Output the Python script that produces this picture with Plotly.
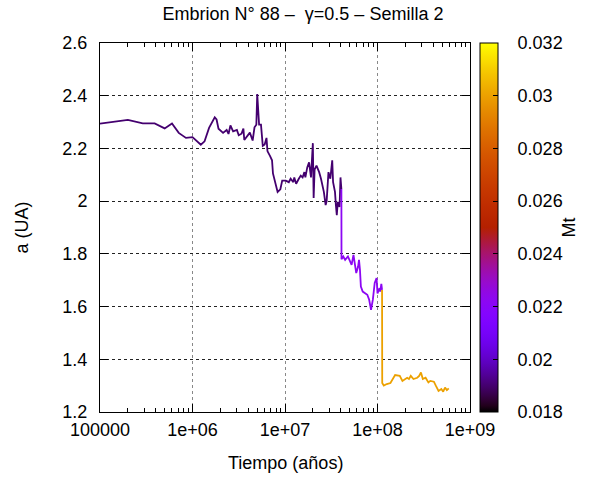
import math
import plotly.graph_objects as go

# ---- data ----
t_seg1 = [1.0e5, 2.0e5, 2.9e5, 3.9e5, 5.0e5, 6.0e5, 7.1e5, 8.5e5, 1.0e6, 1.23e6,
          1.35e6, 1.51e6, 1.74e6, 1.82e6, 1.91e6, 2.14e6, 2.34e6, 2.45e6, 2.57e6, 2.75e6,
          3.02e6, 3.16e6, 3.39e6, 3.55e6, 3.63e6, 3.98e6, 4.17e6, 4.47e6, 4.68e6, 4.90e6,
          5.01e6, 5.25e6, 5.50e6, 5.75e6, 6.03e6, 6.31e6, 6.46e6, 6.92e6, 7.24e6, 7.41e6,
          7.94e6, 8.32e6, 8.91e6, 9.33e6, 1.02e7, 1.10e7, 1.15e7, 1.23e7, 1.26e7, 1.32e7,
          1.41e7, 1.48e7, 1.55e7, 1.62e7, 1.66e7, 1.74e7, 1.82e7, 1.91e7, 2.00e7, 2.04e7,
          2.09e7, 2.19e7, 2.34e7, 2.45e7, 2.63e7, 2.75e7, 2.82e7, 2.88e7, 2.95e7, 3.09e7,
          3.24e7, 3.31e7, 3.47e7, 3.55e7, 3.63e7, 3.72e7, 3.89e7, 3.98e7, 4.07e7]
a_seg1 = [2.294, 2.308, 2.295, 2.295, 2.276, 2.295, 2.259, 2.240, 2.243, 2.214,
          2.227, 2.278, 2.318, 2.310, 2.275, 2.259, 2.270, 2.255, 2.287, 2.265,
          2.270, 2.250, 2.256, 2.275, 2.232, 2.250, 2.260, 2.230, 2.280, 2.290,
          2.406, 2.290, 2.290, 2.210, 2.215, 2.240, 2.190, 2.170, 2.155, 2.105,
          2.060, 2.035, 2.045, 2.078, 2.078, 2.072, 2.085, 2.072, 2.090, 2.066,
          2.085, 2.097, 2.090, 2.110, 2.090, 2.128, 2.147, 2.090, 2.220, 2.012,
          2.120, 2.135, 2.110, 2.085, 2.035, 1.985, 2.000, 2.060, 2.110, 2.085,
          2.155, 2.072, 2.035, 1.985, 1.947, 1.997, 1.978, 2.090, 2.046]

t_seg2 = [4.07e7, 4.08e7, 4.27e7, 4.47e7, 4.79e7, 5.01e7, 5.25e7, 5.50e7, 5.75e7, 5.89e7,
          6.17e7, 6.31e7, 6.46e7, 6.61e7, 6.92e7, 7.41e7, 7.76e7, 8.13e7, 8.51e7, 8.91e7,
          9.12e7, 9.33e7, 9.77e7, 1.00e8, 1.05e8, 1.07e8, 1.10e8, 1.12e8]
a_seg2 = [2.046, 1.780, 1.790, 1.777, 1.790, 1.777, 1.758, 1.796, 1.758, 1.727,
          1.752, 1.777, 1.740, 1.676, 1.657, 1.650, 1.645, 1.626, 1.588, 1.626,
          1.650, 1.690, 1.708, 1.650, 1.670, 1.657, 1.686, 1.663]

t_seg3 = [1.12e8, 1.125e8, 1.17e8, 1.26e8, 1.38e8, 1.45e8, 1.55e8, 1.74e8, 1.86e8, 2.09e8,
          2.19e8, 2.29e8, 2.45e8, 2.69e8, 2.82e8, 2.95e8, 3.09e8, 3.31e8, 3.55e8, 3.72e8,
          4.07e8, 4.27e8, 4.57e8, 4.90e8, 5.13e8, 5.37e8, 5.62e8, 5.89e8]
a_seg3 = [1.663, 1.310, 1.300, 1.306, 1.310, 1.325, 1.340, 1.337, 1.318, 1.330,
          1.325, 1.337, 1.325, 1.330, 1.337, 1.350, 1.325, 1.330, 1.312, 1.318,
          1.315, 1.300, 1.280, 1.287, 1.277, 1.293, 1.283, 1.290]

mt_segments = [0.0190, 0.0222, 0.0300]

x_tickvals = [1e5, 1e6, 1e7, 1e8, 1e9]
x_ticktext = ["100000", "1e+06", "1e+07", "1e+08", "1e+09"]
x_minor_vals = [m * 10 ** d for d in range(5, 9) for m in range(2, 10)]
y_tickvals = [1.2, 1.4, 1.6, 1.8, 2.0, 2.2, 2.4, 2.6]
y_ticktext = ["1.2", "1.4", "1.6", "1.8", "2", "2.2", "2.4", "2.6"]
cb_tickvals = [0.018, 0.020, 0.022, 0.024, 0.026, 0.028, 0.030, 0.032]
cb_ticktext = ["0.018", "0.02", "0.022", "0.024", "0.026", "0.028", "0.03", "0.032"]
cmin, cmax = 0.018, 0.032

title_text = "Embrion N° 88 –  γ=0.5 – Semilla 2"
xlabel = "Tiempo (años)"
ylabel = "a (UA)"
cblabel = "Mt"

# ---- gnuplot-like palette (rgbformulae 7,5,15) ----
def pal(f):
    f = min(max(f, 0.0), 1.0)
    r = math.sqrt(f)
    g = f ** 3
    b = math.sin(2 * math.pi * f)
    r, g, b = [min(max(v, 0.0), 1.0) for v in (r, g, b)]
    return "rgb(%d,%d,%d)" % (round(r * 255), round(g * 255), round(b * 255))

colorscale = [[i / 60, pal(i / 60)] for i in range(61)]

FONT = "Liberation Sans, Arial, sans-serif"
FS = 18
fig = go.Figure()

for ts, as_, mt in zip([t_seg1, t_seg2, t_seg3], [a_seg1, a_seg2, a_seg3], mt_segments):
    fig.add_trace(go.Scatter(x=ts, y=as_, mode="lines",
                             line=dict(color=pal((mt - cmin) / (cmax - cmin)), width=1.8),
                             showlegend=False, hoverinfo="skip"))

# colorbar carrier
NB = "\u00a0"
fig.add_trace(go.Scatter(
    x=[1e5, 1e5], y=[1.2, 1.2], mode="markers", showlegend=False, hoverinfo="skip",
    marker=dict(size=1, opacity=0, color=[cmin, cmax], cmin=cmin, cmax=cmax,
                colorscale=colorscale, showscale=True,
                colorbar=dict(x=(480 - 100) / 370, xanchor="left", xref="paper",
                              y=0.5, yanchor="middle", len=1.0, lenmode="fraction",
                              thickness=18, thicknessmode="pixels", xpad=0, ypad=0,
                              outlinecolor="black", outlinewidth=1,
                              tickvals=cb_tickvals, ticktext=[NB * 3 + s for s in cb_ticktext],
                              ticks="inside", ticklen=5, tickcolor="black",
                              tickfont=dict(family=FONT, size=FS, color="black")))))

fig.update_xaxes(type="log", range=[5, 9], tickvals=x_tickvals, ticktext=x_ticktext,
                 ticks="inside", ticklen=8, tickcolor="black", mirror="allticks",
                 showline=True, linecolor="black", linewidth=1,
                 showgrid=True, gridcolor="#888888", griddash="dot", gridwidth=1,
                 minor=dict(tickvals=x_minor_vals, ticks="inside", ticklen=4,
                            tickcolor="black", showgrid=False),
                 ticklabelstandoff=1,
                 tickfont=dict(family=FONT, size=FS, color="black"), zeroline=False)
fig.update_yaxes(range=[1.2, 2.6], tickvals=y_tickvals, ticktext=y_ticktext,
                 ticks="inside", ticklen=8, tickcolor="black", mirror="allticks",
                 showline=True, linecolor="black", linewidth=1,
                 showgrid=True, gridcolor="#222222", griddash="dot", gridwidth=1,
                 ticklabelstandoff=8,
                 tickfont=dict(family=FONT, size=FS, color="black"), zeroline=False)

fig.update_layout(
    width=606, height=478,
    margin=dict(l=100, r=136, t=43, b=66),
    paper_bgcolor="white", plot_bgcolor="white",
    font=dict(family=FONT, size=FS, color="black"),
    title=dict(text=title_text, x=0.5, xref="container", xanchor="center",
               y=1 - 14 / 478, yref="container", yanchor="middle",
               font=dict(family=FONT, size=FS, color="black")),
    annotations=[
        dict(text=xlabel, xref="paper", yref="paper", x=0.5, y=-(463 - 412) / 369,
             xanchor="center", yanchor="middle", showarrow=False,
             font=dict(family=FONT, size=FS, color="black")),
        dict(text=ylabel, xref="paper", yref="paper", x=-(100 - 21) / 370, y=0.5,
             xanchor="center", yanchor="middle", showarrow=False, textangle=-90,
             font=dict(family=FONT, size=FS, color="black")),
        dict(text=cblabel, xref="paper", yref="paper", x=(568 - 100) / 370, y=0.5,
             xanchor="center", yanchor="middle", showarrow=False, textangle=-90,
             font=dict(family=FONT, size=FS, color="black")),
    ],
)

fig.write_html("out.html", config={"displayModeBar": False},
               post_script="document.body.style.margin='0';document.body.style.padding='0';")
